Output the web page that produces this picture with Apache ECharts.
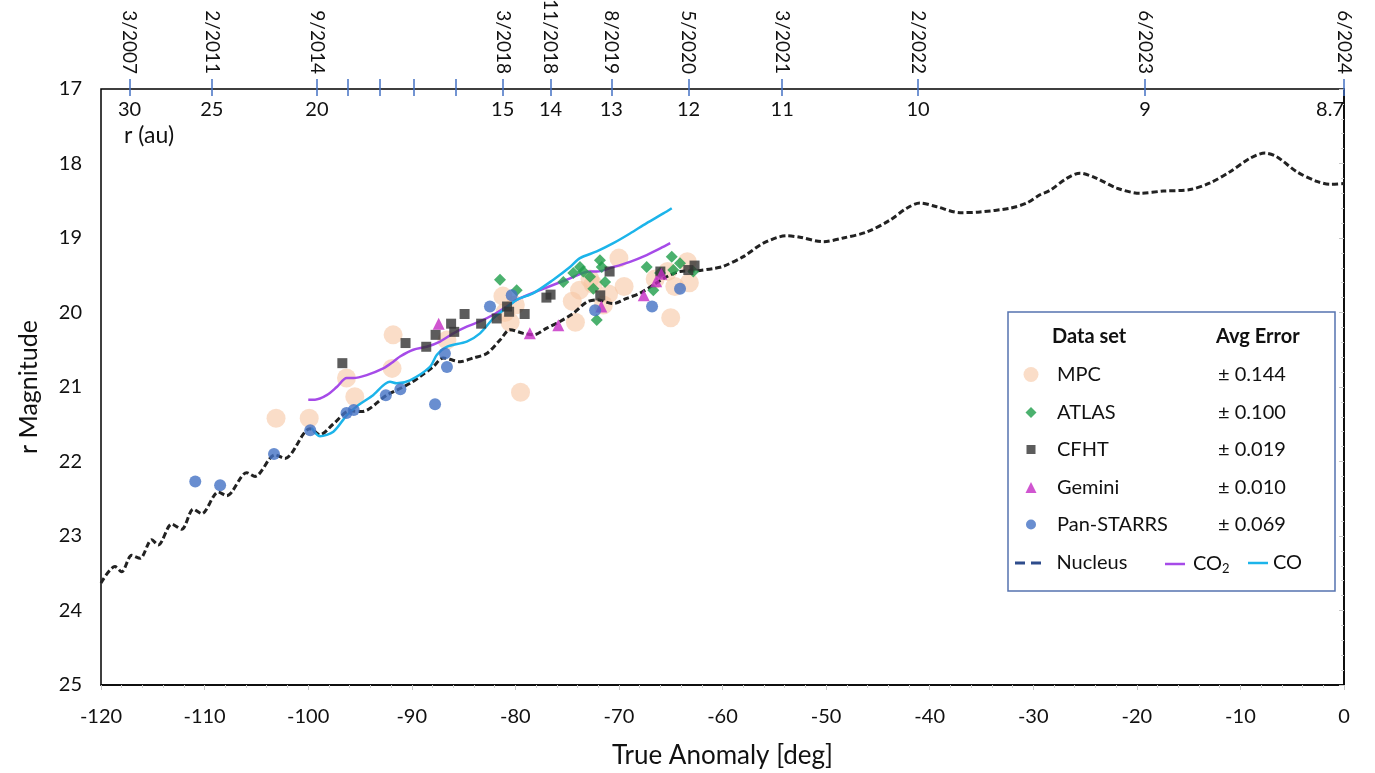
<!DOCTYPE html>
<html><head><meta charset="utf-8">
<script src="https://cdn.jsdelivr.net/npm/echarts@6/dist/echarts.min.js"></script>
<style>html,body{margin:0;padding:0;background:#fff}#c{width:1375px;height:773px}</style>
</head><body><div id="c"></div>
<script>
const FONT = 'Lato';
// ---- data (true anomaly deg, r magnitude) ----
const nucleus = [[-120,23.63],[-118.65,23.41],[-118.0,23.48],[-117.04,23.26],[-116.23,23.30],[-115.11,23.05],[-114.47,23.12],[-113.17,22.84],[-112.21,22.91],[-111.09,22.64],[-110.28,22.70],[-108.68,22.41],[-107.86,22.46],[-105.93,22.15],[-105.13,22.20],[-103.20,21.91],[-102.24,21.96],[-99.82,21.56],[-98.86,21.64],[-97.60,21.50],[-95.96,21.32],[-94.83,21.33],[-92.42,21.11],[-91.13,21.02],[-90.17,20.95],[-89.20,20.86],[-87.95,20.73],[-86.95,20.61],[-86.02,20.64],[-85.34,20.66],[-84.06,20.61],[-82.76,20.55],[-81.48,20.37],[-80.51,20.23],[-79.23,20.28],[-78.26,20.30],[-76.97,20.21],[-75.69,20.12],[-74.40,20.01],[-73.11,19.86],[-72.14,19.83],[-70.54,19.88],[-69.25,19.81],[-67.96,19.74],[-66.68,19.63],[-65.39,19.52],[-64.10,19.45],[-62.49,19.44],[-60.89,19.41],[-59.92,19.38],[-57.99,19.25],[-56.06,19.07],[-53.80,18.97],[-52.51,18.99],[-50.27,19.05],[-48.34,19.00],[-46.08,18.92],[-43.83,18.76],[-42.21,18.60],[-40.93,18.53],[-39.32,18.58],[-37.07,18.66],[-35.14,18.65],[-32.24,18.60],[-30.63,18.53],[-29.35,18.42],[-28.38,18.36],[-26.77,18.20],[-25.48,18.13],[-23.87,18.20],[-21.94,18.33],[-19.69,18.40],[-17.44,18.37],[-14.86,18.35],[-12.93,18.26],[-11.00,18.11],[-9.07,17.93],[-7.63,17.86],[-6.49,17.91],[-4.56,18.11],[-2.63,18.24],[-1.30,18.28],[0,18.27]];
const co = [[-99.66,21.55],[-98.86,21.66],[-97.57,21.60],[-96.28,21.38],[-95.31,21.26],[-93.84,21.12],[-92.10,20.93],[-91.45,20.95],[-90.17,20.91],[-88.24,20.73],[-87.59,20.57],[-86.63,20.46],[-84.69,20.39],[-83.41,20.28],[-82.13,20.08],[-81.16,19.97],[-79.87,19.83],[-78.26,19.74],[-76.33,19.56],[-74.72,19.39],[-73.76,19.27],[-72.14,19.18],[-70.54,19.07],[-68.93,18.94],[-67.32,18.80],[-65.71,18.67],[-64.90,18.60]];
const co2 = [[-99.99,21.17],[-99.34,21.17],[-98.21,21.11],[-97.24,21.00],[-96.28,20.88],[-95.64,20.88],[-94.35,20.84],[-92.75,20.75],[-91.78,20.66],[-91.13,20.59],[-89.85,20.50],[-88.56,20.46],[-87.27,20.39],[-85.99,20.28],[-84.69,20.19],[-83.41,20.12],[-82.13,20.03],[-80.83,19.92],[-79.87,19.83],[-77.62,19.70],[-75.04,19.56],[-72.79,19.45],[-72.14,19.45],[-70.54,19.39],[-68.93,19.32],[-67.32,19.23],[-66.01,19.14],[-65.05,19.07]];
const mpc = [[-103.1,21.42],[-99.9,21.42],[-95.5,21.13],[-91.9,20.75],[-91.8,20.30],[-96.3,20.88],[-86.6,20.37],[-79.5,21.07],[-81.2,19.78],[-80.5,20.13],[-81.0,20.00],[-80.0,19.90],[-74.2,20.13],[-73.8,19.70],[-72.5,19.62],[-71.0,19.75],[-70.0,19.27],[-71.5,19.90],[-72.8,19.55],[-65.0,20.07],[-63.4,19.32],[-63.2,19.60],[-65.3,19.45],[-64.6,19.65],[-66.5,19.55],[-69.5,19.65],[-74.5,19.85]];
const atlas = [[-81.48,19.56],[-79.87,19.70],[-75.37,19.59],[-74.40,19.47],[-73.76,19.39],[-73.44,19.45],[-72.79,19.52],[-71.83,19.30],[-71.66,19.39],[-71.34,19.59],[-72.47,19.68],[-72.14,20.10],[-67.32,19.39],[-66.68,19.70],[-64.90,19.25],[-64.10,19.34],[-64.75,19.43],[-66.03,19.47],[-62.82,19.45]];
const cfht = [[-96.7,20.68],[-90.6,20.41],[-88.6,20.46],[-87.7,20.30],[-86.2,20.15],[-85.9,20.26],[-84.9,20.02],[-83.3,20.15],[-81.8,20.08],[-80.8,19.92],[-80.6,19.99],[-79.1,20.02],[-77.0,19.80],[-76.6,19.76],[-71.8,19.77],[-70.9,19.45],[-66.0,19.45],[-63.3,19.43],[-62.7,19.37]];
const gemini = [[-87.4,20.15],[-78.6,20.28],[-75.85,20.17],[-71.7,19.92],[-67.6,19.77],[-66.4,19.58],[-65.9,19.48]];
const panstarrs = [[-110.9,22.27],[-108.5,22.32],[-103.3,21.90],[-99.8,21.58],[-96.3,21.35],[-95.6,21.31],[-92.5,21.11],[-91.1,21.03],[-87.75,21.23],[-86.8,20.55],[-86.6,20.73],[-82.45,19.92],[-80.35,19.77],[-72.3,19.97],[-66.8,19.92],[-64.1,19.68]];
// ---- top axis (dates / heliocentric distance) ----
const topTickDeg = [-117.25,-109.3,-99.15,-96.15,-93.1,-89.84,-85.8,-81.22,-76.6,-70.74,-63.28,-54.24,-41.12,-19.2,0];
const topTickDate = ['3/2007','2/2011','9/2014','','','','','3/2018','11/2018','8/2019','5/2020','3/2021','2/2022','6/2023','6/2024'];
const topTickR = ['30','25','20','','','','','15','14','13','12','11','10','9','8.7'];
// ---- legend ----
const setNames = ['MPC','ATLAS','CFHT','Gemini','Pan-STARRS'];
const setErrors = ['± 0.144','± 0.100','± 0.019','± 0.010','± 0.069'];

const labeledDeg = topTickDeg.filter((v,i)=>topTickDate[i] !== '');
function idxOf(v){ return topTickDeg.findIndex(t => Math.abs(t - v) < 1e-6); }

const chart = echarts.init(document.getElementById('c'), null, {renderer:'canvas'});
const txt = {fontFamily: FONT, color:'#111'};

// legend layout (styles only)
const iconSizes = [15, 11, 9, 11, 10];
const rowCenters = [371.5, 409.5, 446.5, 484.5, 521.5];
const iconCx = 1026, textX = 1052;
const setLegends = setNames.map((n,i)=>{
  const w = iconSizes[i];
  const left = iconCx - w/2;
  return {orient:'vertical', left:left, top:rowCenters[i]-12, itemWidth:w, itemHeight:w, z:10,
    data:[n],
    formatter:name=>'{n|'+name+'}{e|'+setErrors[setNames.indexOf(name)]+'}',
    textStyle:{padding:[0,0,0,textX-(left+w+5)],
      rich:{n:{width:161,fontSize:20,lineHeight:24,fontFamily:FONT,color:'#111'},
            e:{fontSize:20,lineHeight:24,fontFamily:FONT,color:'#111'}}}};
});

const option = {
  backgroundColor:'#fff',
  animation:false,
  textStyle:{fontFamily:FONT},
  grid:{left:101,right:31,top:89,bottom:88,outerBoundsMode:'none',containLabel:false,show:true,borderColor:'#000',borderWidth:1.5,backgroundColor:'transparent'},
  xAxis:[
    {type:'value',min:-120,max:0,interval:10,position:'bottom',
     name:'True Anomaly [deg]',nameLocation:'middle',nameGap:58,nameTextStyle:{fontSize:26,fontFamily:FONT,color:'#111'},
     axisLine:{show:true,lineStyle:{color:'#000',width:1.5}},
     axisTick:{show:true,length:5,lineStyle:{color:'#c8c8c8'}},
     minorTick:{show:true,splitNumber:5,length:3,lineStyle:{color:'#d0d0d0'}},
     splitLine:{show:false},
     axisLabel:{fontSize:20,margin:22,...txt}},
    {type:'value',min:-120,max:0,position:'top',
     axisLine:{show:false},
     axisTick:{show:true,customValues:topTickDeg,length:10,lineStyle:{color:'#4472C4',width:1.5}},
     splitLine:{show:false},
     axisLabel:{show:true,customValues:labeledDeg,rotate:90,margin:15,fontSize:19,...txt,
       formatter:v=>topTickDate[idxOf(v)]}},
    {type:'value',min:-120,max:0,position:'top',
     axisLine:{show:false},
     axisTick:{show:true,inside:true,customValues:topTickDeg,length:7,lineStyle:{color:'#4472C4',width:1.5}},
     splitLine:{show:false},
     axisLabel:{show:true,inside:true,customValues:labeledDeg,margin:11,fontSize:20,...txt,alignMaxLabel:'right',
       formatter:v=>topTickR[idxOf(v)]}}
  ],
  yAxis:{type:'value',min:17,max:25,interval:1,inverse:true,
    name:'r Magnitude',nameLocation:'middle',nameGap:60,nameTextStyle:{fontSize:25,fontFamily:FONT,color:'#111'},
    axisLine:{show:true,lineStyle:{color:'#000',width:1.5}},
    axisTick:{show:true,length:5,lineStyle:{color:'#c8c8c8'}},
    minorTick:{show:true,splitNumber:5,length:3,lineStyle:{color:'#d0d0d0'}},
    splitLine:{show:false},
    axisLabel:{fontSize:20,margin:19,...txt}},
  legend:[
    ...setLegends,
    {orient:'horizontal',left:1010,top:546,itemWidth:27,itemHeight:3,z:10,
     data:[{name:'Nucleus',icon:'path://M0,0h10v3h-10zM16,0h10v3h-10z',itemStyle:{color:'#2E4C8C'}}],
     textStyle:{fontSize:20,lineHeight:24,fontFamily:FONT,color:'#111',padding:[0,0,0,10]}},
    {orient:'horizontal',left:1160,top:546,itemWidth:20,itemHeight:2.5,z:10,
     data:[{name:'CO2',icon:'path://M0,0h20v2.5h-20z',itemStyle:{color:'#A64BE8'}}],
     formatter:()=>'{t|CO}{s|2}',
     textStyle:{padding:[0,0,0,3],rich:{t:{fontSize:20,lineHeight:22,fontFamily:FONT,color:'#111'},s:{fontSize:13,lineHeight:13,padding:[11,0,0,0],verticalAlign:'bottom',fontFamily:FONT,color:'#111'}}}},
    {orient:'horizontal',left:1243,top:546,itemWidth:20,itemHeight:2.5,z:10,
     data:[{name:'CO',icon:'path://M0,0h20v2.5h-20z',itemStyle:{color:'#1CB4EA'}}],
     textStyle:{fontSize:20,lineHeight:24,fontFamily:FONT,color:'#111'}}
  ],
  graphic:[
    {type:'rect',z:5,shape:{x:1008,y:312,width:327,height:279},style:{fill:'#fff',stroke:'#5573B0',lineWidth:1.5}},
    {type:'text',z:6,left:1052,top:327,style:{text:'Data set',font:'bold 20px Lato',fill:'#111'}},
    {type:'text',z:6,left:1216,top:327,style:{text:'Avg Error',font:'bold 20px Lato',fill:'#111'}},
    {type:'text',z:6,left:124,top:124,style:{text:'r (au)',fontSize:23,fontFamily:FONT,fill:'#111'}}
  ],
  series:[
    {name:'MPC',type:'scatter',data:mpc,symbol:'circle',symbolSize:19,z:1,itemStyle:{color:'#F6C6A3',opacity:0.6}},
    {name:'Nucleus',type:'line',data:nucleus,symbol:'none',smooth:0.3,z:2,lineStyle:{color:'#222',width:3,type:[6,3]},itemStyle:{color:'#222'}},
    {name:'CO2',type:'line',data:co2,symbol:'none',smooth:0.3,z:3,lineStyle:{color:'#A64BE8',width:2.5},itemStyle:{color:'#A64BE8'}},
    {name:'CO',type:'line',data:co,symbol:'none',smooth:0.3,z:3,lineStyle:{color:'#1CB4EA',width:2.5},itemStyle:{color:'#1CB4EA'}},
    {name:'ATLAS',type:'scatter',data:atlas,symbol:'diamond',symbolSize:12,z:4,itemStyle:{color:'#1E9E4A'}},
    {name:'CFHT',type:'scatter',data:cfht,symbol:'rect',symbolSize:10,z:4,itemStyle:{color:'#333'}},
    {name:'Gemini',type:'scatter',data:gemini,symbol:'triangle',symbolSize:12,z:4,itemStyle:{color:'#C42BC4'}},
    {name:'Pan-STARRS',type:'scatter',data:panstarrs,symbol:'circle',symbolSize:12,z:4,itemStyle:{color:'#4472C4'}}
  ]
};
chart.setOption(option);
</script></body></html>
